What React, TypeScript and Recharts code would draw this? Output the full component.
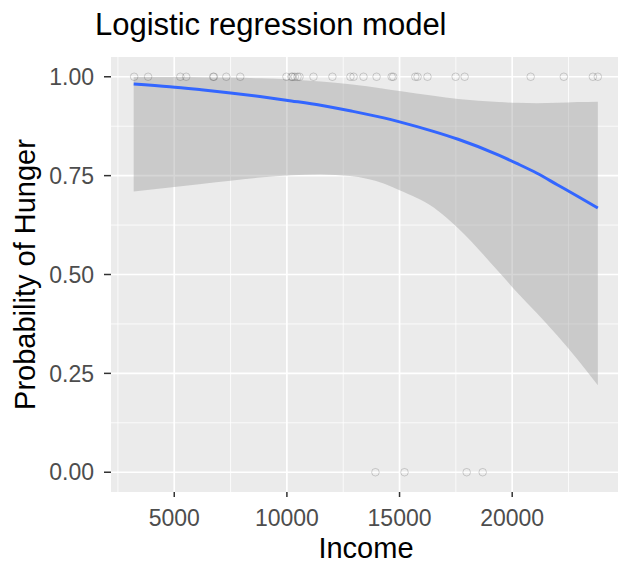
import React from "react";
import {
  ComposedChart,
  Area,
  Line,
  Scatter,
  XAxis,
  YAxis,
  CartesianGrid,
  Label,
} from "recharts";

// fitted curve + 95% band
const curveIncome = [
  3200, 4800, 6200, 7500, 8800, 10200, 11500, 12800, 14300, 15000, 16500,
  17600, 19400, 20200, 21100, 22000, 22900, 23800,
];
const curveFit = [
  0.982, 0.975, 0.967, 0.959, 0.95, 0.939, 0.928, 0.914, 0.896, 0.886, 0.862,
  0.842, 0.802, 0.781, 0.756, 0.727, 0.698, 0.668,
];
const curveUpper = [
  0.9997, 0.9995, 0.999, 0.998, 0.996, 0.993, 0.988, 0.981, 0.97, 0.964, 0.952,
  0.944, 0.936, 0.934, 0.933, 0.934, 0.936, 0.937,
];
const curveLower = [
  0.71, 0.72, 0.729, 0.737, 0.745, 0.751, 0.753, 0.749, 0.73, 0.713, 0.67,
  0.617, 0.507, 0.456, 0.402, 0.346, 0.285, 0.22,
];

// observed households (hungry = 1, not hungry = 0)
const hungryIncome = [
  3220, 3840, 5270, 5530, 6730, 6760, 7310, 7930, 9980, 10200, 10250, 10350,
  10470, 10560, 11180, 12020, 12820, 12960, 13400, 13980, 14650, 14720, 15700,
  15800, 16240, 17490, 17890, 20820, 22290, 23580, 23800,
];
const notHungryIncome = [13930, 15220, 17980, 18690];

const xTicks = [5000, 10000, 15000, 20000];
const xMinor = [2500, 7500, 12500, 17500, 22500];
const yTicks = [0, 0.25, 0.5, 0.75, 1];
const yMinor = [0.125, 0.375, 0.625, 0.875];

const curveData = curveIncome.map((income, i) => ({
  income,
  fit: curveFit[i],
  band: [curveLower[i], curveUpper[i]],
}));

const pointData = [
  ...hungryIncome.map((income) => ({ income, p: 1 })),
  ...notHungryIncome.map((income) => ({ income, p: 0 })),
];

const FONT = "'Liberation Sans', Arial, Helvetica, sans-serif";

const HollowPoint = (props: any) => (
  <circle
    cx={props.cx}
    cy={props.cy}
    r={3.8}
    fill="none"
    stroke="#000"
    strokeOpacity={0.16}
    strokeWidth={1}
  />
);

const XTitle = (props: any) => {
  const { viewBox } = props;
  return (
    <text
      x={viewBox.x + viewBox.width / 2}
      y={558}
      textAnchor="middle"
      fontSize={29}
      fontFamily={FONT}
      fill="#000"
    >
      Income
    </text>
  );
};

const YTitle = (props: any) => {
  const { viewBox } = props;
  const cx = 35;
  const cy = viewBox.y + viewBox.height / 2;
  return (
    <text
      x={cx}
      y={cy}
      transform={`rotate(-90 ${cx} ${cy})`}
      textAnchor="middle"
      fontSize={29}
      fontFamily={FONT}
      fill="#000"
    >
      Probability of Hunger
    </text>
  );
};

export default function App() {
  return (
    <div
      style={{
        position: "absolute",
        left: 0,
        top: 0,
        width: 618,
        height: 571,
        overflow: "hidden",
        background: "#fff",
      }}
    >
      <svg
        width={618}
        height={50}
        style={{ position: "absolute", left: 0, top: 0 }}
      >
        <text x={95} y={35} fontSize={31} fontFamily={FONT} fill="#000">
          Logistic regression model
        </text>
      </svg>
      <div style={{ position: "absolute", left: 0, top: 0 }}>
        <ComposedChart
          width={630}
          height={571}
          data={curveData}
          margin={{ top: 57, right: 9, bottom: 0, left: 0 }}
        >
          <CartesianGrid
            fill="#EBEBEB"
            stroke="#fff"
            strokeWidth={0.8}
            horizontalValues={yMinor}
            verticalValues={xMinor}
          />
          <CartesianGrid
            stroke="#fff"
            strokeWidth={1.7}
            horizontalValues={yTicks}
            verticalValues={xTicks}
          />
          <XAxis
            dataKey="income"
            type="number"
            domain={[2193, 24829]}
            ticks={xTicks}
            allowDataOverflow
            height={79}
            axisLine={false}
            tickSize={5}
            tickMargin={13}
            tickLine={{ stroke: "#333", strokeWidth: 1.5 }}
            tick={{ fill: "#4D4D4D", fontSize: 23, fontFamily: FONT }}
          >
            <Label content={<XTitle />} />
          </XAxis>
          <YAxis
            type="number"
            domain={[-0.05, 1.05]}
            ticks={yTicks}
            allowDataOverflow
            width={111}
            axisLine={false}
            tickSize={7}
            tickMargin={10}
            tickLine={{ stroke: "#333", strokeWidth: 1.5 }}
            tickFormatter={(v: number) => v.toFixed(2)}
            tick={{ fill: "#4D4D4D", fontSize: 23, fontFamily: FONT }}
          >
            <Label content={<YTitle />} />
          </YAxis>
          <Scatter
            data={pointData}
            dataKey="p"
            shape={<HollowPoint />}
            isAnimationActive={false}
          />
          <Area
            dataKey="band"
            type="monotone"
            fill="#999999"
            fillOpacity={0.4}
            stroke="none"
            isAnimationActive={false}
            activeDot={false}
          />
          <Line
            dataKey="fit"
            type="monotone"
            stroke="#3366FF"
            strokeWidth={3}
            dot={false}
            activeDot={false}
            isAnimationActive={false}
          />
        </ComposedChart>
      </div>
    </div>
  );
}
